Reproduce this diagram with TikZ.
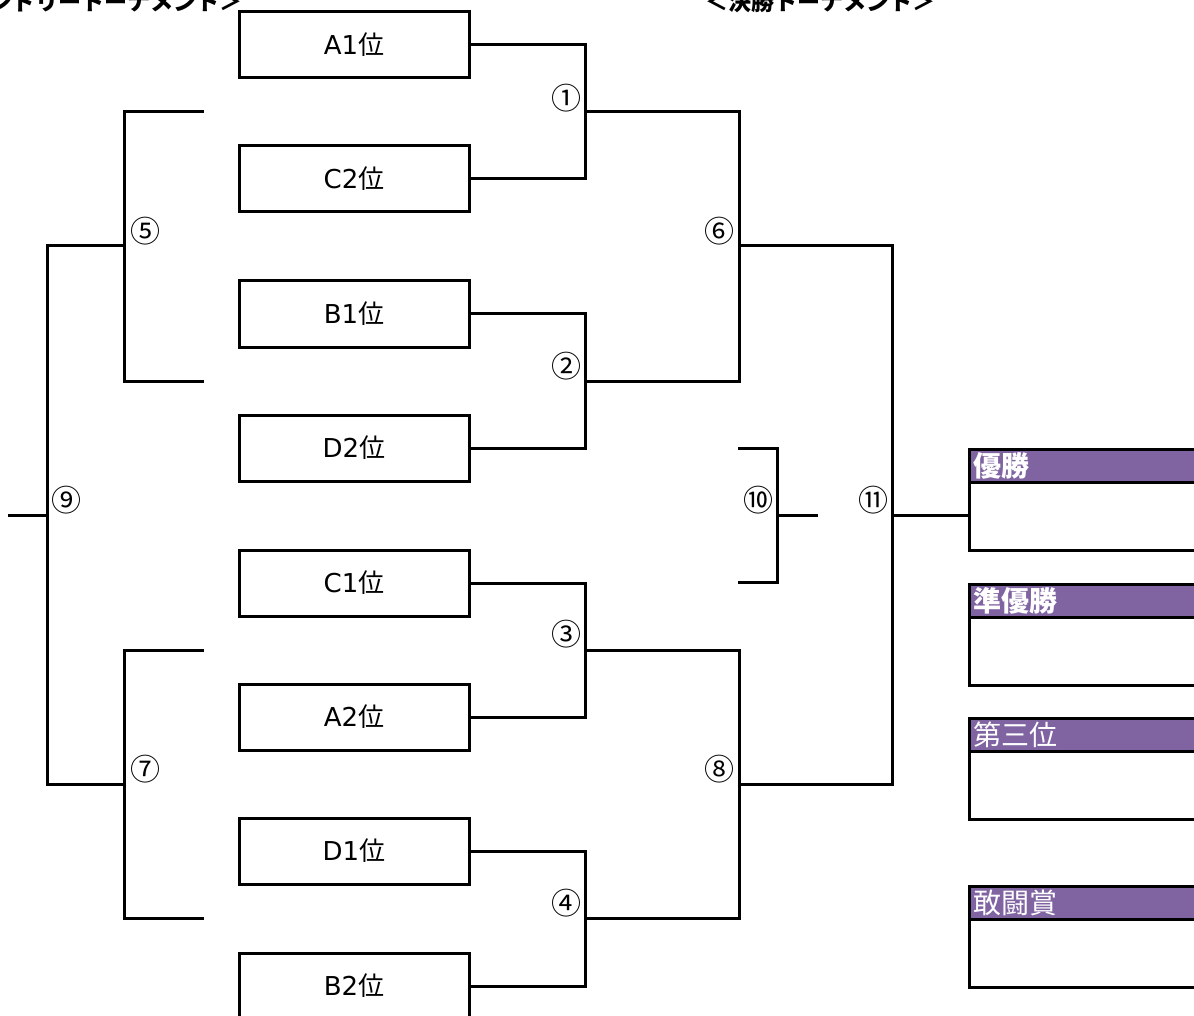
\documentclass[tikz,border=0pt]{standalone}
\usepackage{fontspec}
\setmainfont{Noto Sans CJK JP}
\newfontfamily\latfont{DejaVu Sans}
\definecolor{hdrpurple}{RGB}{128,100,162}
\begin{document}
\begin{tikzpicture}[x=1pt,y=-1pt,line width=3pt,line cap=rect,
  team/.style={draw,line width=3pt,minimum width=230pt,minimum height=66pt,inner sep=0pt,
    font=\fontsize{26}{26}\selectfont},
  num/.style={inner sep=0pt,font=\fontsize{30}{30}\selectfont},
  hdr/.style={draw,fill=hdrpurple,text=white,line width=3pt,text width=252pt,align=left,
    inner xsep=4pt,inner ysep=0pt,minimum height=33pt,anchor=north west,
    font=\fontsize{28}{28}\selectfont},
  body/.style={draw,line width=3pt,minimum width=262pt,minimum height=68pt,inner sep=0pt,anchor=north west},
  ttl/.style={inner sep=0pt,font=\fontsize{23}{23}\selectfont\bfseries}]
\useasboundingbox (0,0) rectangle (1194,1016);

% titles (cut off by the top edge)
\node[ttl,anchor=base east] (tl) at (244,11) {＜フレンドリートーナメント＞};
\node[ttl,anchor=base] (tr) at (820,11) {＜決勝トーナメント＞};

% teams
\node[team] (a1) at (354,45) {{\latfont A1}位};
\node[team] (c2) at (354,179) {{\latfont C2}位};
\node[team] (b1) at (354,314) {{\latfont B1}位};
\node[team] (d2) at (354,448) {{\latfont D2}位};
\node[team] (c1) at (354,583) {{\latfont C1}位};
\node[team] (a2) at (354,717) {{\latfont A2}位};
\node[team] (d1) at (354,851) {{\latfont D1}位};
\node[team] (b2) at (354,986) {{\latfont B2}位};

% joins
\coordinate (j1) at (585,112);
\coordinate (j2) at (585,381);
\coordinate (j3) at (585,650);
\coordinate (j4) at (585,918);
\coordinate (j6) at (739,246);
\coordinate (j8) at (739,784);
\coordinate (j11) at (892,515);
\coordinate (j10) at (777,515);
\coordinate (f10a) at (739,448);
\coordinate (f10b) at (739,582);
\coordinate (f10c) at (816,515);
\coordinate (j5) at (124,246);
\coordinate (j7) at (124,784);
\coordinate (j9) at (47,515);
\coordinate (f5a) at (202,112);
\coordinate (f5b) at (202,381);
\coordinate (f7a) at (202,650);
\coordinate (f7b) at (202,918);
\coordinate (f9) at (9,515);

% award boxes
\node[hdr] (h1) at (968,448) {\bfseries 優勝};
\node[body] (w1) at (968,481) {};
\node[hdr] (h2) at (968,583) {\bfseries 準優勝};
\node[body] (w2) at (968,616) {};
\node[hdr] (h3) at (968,717) {第三位};
\node[body] (w3) at (968,750) {};
\node[hdr] (h4) at (968,885) {敢闘賞};
\node[body] (w4) at (968,918) {};

% right bracket
\draw (a1.east) -| (j1) |- (c2.east);
\draw (b1.east) -| (j2) |- (d2.east);
\draw (c1.east) -| (j3) |- (a2.east);
\draw (d1.east) -| (j4) |- (b2.east);
\draw (j1) -| (j6) |- (j2);
\draw (j3) -| (j8) |- (j4);
\draw (j6) -| (j11) |- (j8);
\draw (j11) -- (j11 -| w1.west);
\draw (f10a) -| (j10) |- (f10b);
\draw (j10) -- (f10c);

% left bracket
\draw (f5a) -| (j5) |- (f5b);
\draw (f7a) -| (j7) |- (f7b);
\draw (j5) -| (j9) |- (j7);
\draw (j9) -- (f9);

% match numbers
\node[num] (n1) at (566,98) {①};
\node[num] (n2) at (566,366) {②};
\node[num] (n3) at (566,634) {③};
\node[num] (n4) at (566,903) {④};
\node[num] (n5) at (145,231) {⑤};
\node[num] (n6) at (719,231) {⑥};
\node[num] (n7) at (145,769) {⑦};
\node[num] (n8) at (719,769) {⑧};
\node[num] (n9) at (66,500) {⑨};
\node[num] (n10) at (758,500) {⑩};
\node[num] (n11) at (873,500) {⑪};
\end{tikzpicture}
\end{document}
